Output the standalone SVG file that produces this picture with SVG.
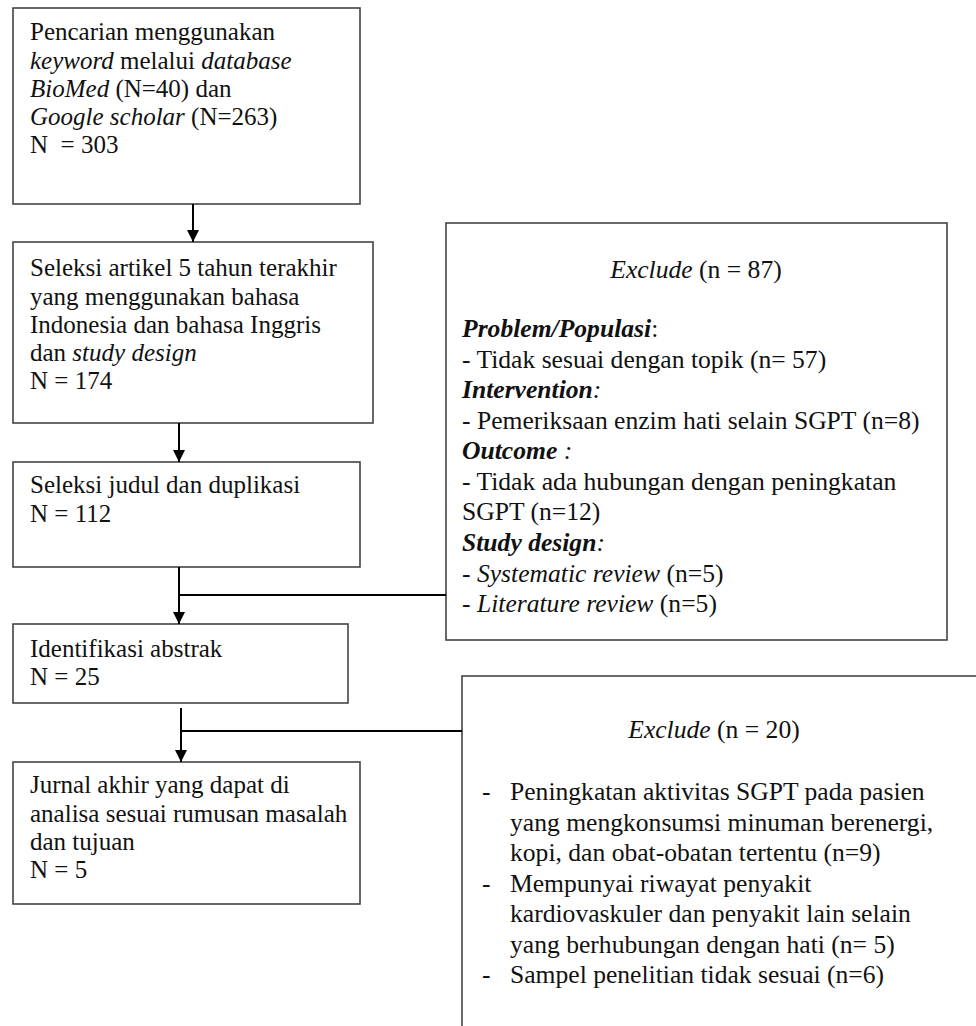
<svg xmlns="http://www.w3.org/2000/svg" width="976" height="1026" viewBox="0 0 976 1026">
<style>
.l{font-size:25px;}
.r{font-size:25.6px;}
.i{font-style:italic;}
.bi{font-style:italic;font-weight:bold;}
.box{fill:#fff;stroke:#444;stroke-width:1.6;}
.con{stroke:#000;stroke-width:2;fill:none;}
</style>
<defs>
<marker id="arr" markerWidth="12" markerHeight="13" refX="12" refY="6" orient="auto" markerUnits="userSpaceOnUse" viewBox="0 0 12 12">
<path d="M0,0 L12,6 L0,12 Z" fill="#000"/>
</marker>
</defs>
<rect width="976" height="1026" fill="#fff"/>
<g font-family="'Liberation Serif', 'Times New Roman', Times, serif" fill="#111">
<g id="n1">
<rect class="box" x="13" y="8" width="347" height="196"/>
<text class="l" x="30" y="40">Pencarian menggunakan</text>
<text class="l" x="30" y="68.5"><tspan class="i">keyword</tspan> melalui <tspan class="i">database</tspan></text>
<text class="l" x="30" y="97"><tspan class="i">BioMed</tspan> (N=40) dan</text>
<text class="l" x="30" y="125"><tspan class="i">Google scholar</tspan> (N=263)</text>
<text class="l" x="30" y="153" xml:space="preserve">N  = 303</text>
</g>

<g id="n2">
<rect class="box" x="13" y="242" width="360" height="181"/>
<text class="l" x="30" y="276">Seleksi artikel 5 tahun terakhir</text>
<text class="l" x="30" y="304.5">yang menggunakan bahasa</text>
<text class="l" x="30" y="333">Indonesia dan bahasa Inggris</text>
<text class="l" x="30" y="361">dan <tspan class="i">study design</tspan></text>
<text class="l" x="30" y="389">N = 174</text>
</g>

<g id="n3">
<rect class="box" x="13" y="462" width="347" height="105"/>
<text class="l" x="30" y="493">Seleksi judul dan duplikasi</text>
<text class="l" x="30" y="521.5">N = 112</text>
</g>

<g id="n4">
<rect class="box" x="13" y="624" width="335" height="79"/>
<text class="l" x="30" y="657">Identifikasi abstrak</text>
<text class="l" x="30" y="685">N = 25</text>
</g>

<g id="n5">
<rect class="box" x="13" y="762" width="347" height="142"/>
<text class="l" x="30" y="793">Jurnal akhir yang dapat di</text>
<text class="l" x="30" y="821.5">analisa sesuai rumusan masalah</text>
<text class="l" x="30" y="850">dan tujuan</text>
<text class="l" x="30" y="878">N = 5</text>
</g>

<g id="ex1">
<rect class="box" x="446" y="223" width="501" height="417"/>
<text class="r" x="696" y="278" text-anchor="middle"><tspan class="i">Exclude</tspan> (n = 87)</text>
<text class="r" x="462" y="337"><tspan class="bi">Problem/Populasi</tspan>:</text>
<text class="r" x="462" y="367.5">- Tidak sesuai dengan topik (n= 57)</text>
<text class="r" x="462" y="398"><tspan class="bi">Intervention</tspan><tspan class="i">:</tspan></text>
<text class="r" x="462" y="428.5">- Pemeriksaan enzim hati selain SGPT (n=8)</text>
<text class="r" x="462" y="459"><tspan class="bi">Outcome</tspan><tspan class="i"> :</tspan></text>
<text class="r" x="462" y="489.5">- Tidak ada hubungan dengan peningkatan</text>
<text class="r" x="462" y="520">SGPT (n=12)</text>
<text class="r" x="462" y="551"><tspan class="bi">Study design</tspan><tspan class="i">:</tspan></text>
<text class="r" x="462" y="581.5"><tspan class="i">- Systematic review</tspan> (n=5)</text>
<text class="r" x="462" y="612"><tspan class="i">- Literature review</tspan> (n=5)</text>
</g>

<g id="ex2">
<rect class="box" x="462" y="676" width="600" height="420"/>
<text class="r" x="714" y="738" text-anchor="middle"><tspan class="i">Exclude</tspan> (n = 20)</text>
<text class="r" x="482" y="800">-</text>
<text class="r" x="510" y="800">Peningkatan aktivitas SGPT pada pasien</text>
<text class="r" x="510" y="830.5">yang mengkonsumsi minuman berenergi,</text>
<text class="r" x="510" y="861">kopi, dan obat-obatan tertentu (n=9)</text>
<text class="r" x="482" y="891.5">-</text>
<text class="r" x="510" y="891.5">Mempunyai riwayat penyakit</text>
<text class="r" x="510" y="922">kardiovaskuler dan penyakit lain selain</text>
<text class="r" x="510" y="952.5">yang berhubungan dengan hati (n= 5)</text>
<text class="r" x="482" y="983">-</text>
<text class="r" x="510" y="983">Sampel penelitian tidak sesuai (n=6)</text>
</g>
</g>
<g id="connectors">
<line class="con" x1="193" y1="204" x2="193" y2="242" marker-end="url(#arr)"/>
<line class="con" x1="179" y1="423" x2="179" y2="462" marker-end="url(#arr)"/>
<line class="con" x1="179" y1="567" x2="179" y2="624" marker-end="url(#arr)"/>
<line class="con" x1="179" y1="595" x2="446" y2="595"/>
<line class="con" x1="181" y1="708" x2="181" y2="762" marker-end="url(#arr)"/>
<line class="con" x1="181" y1="731" x2="462" y2="731"/>
</g>
</svg>
